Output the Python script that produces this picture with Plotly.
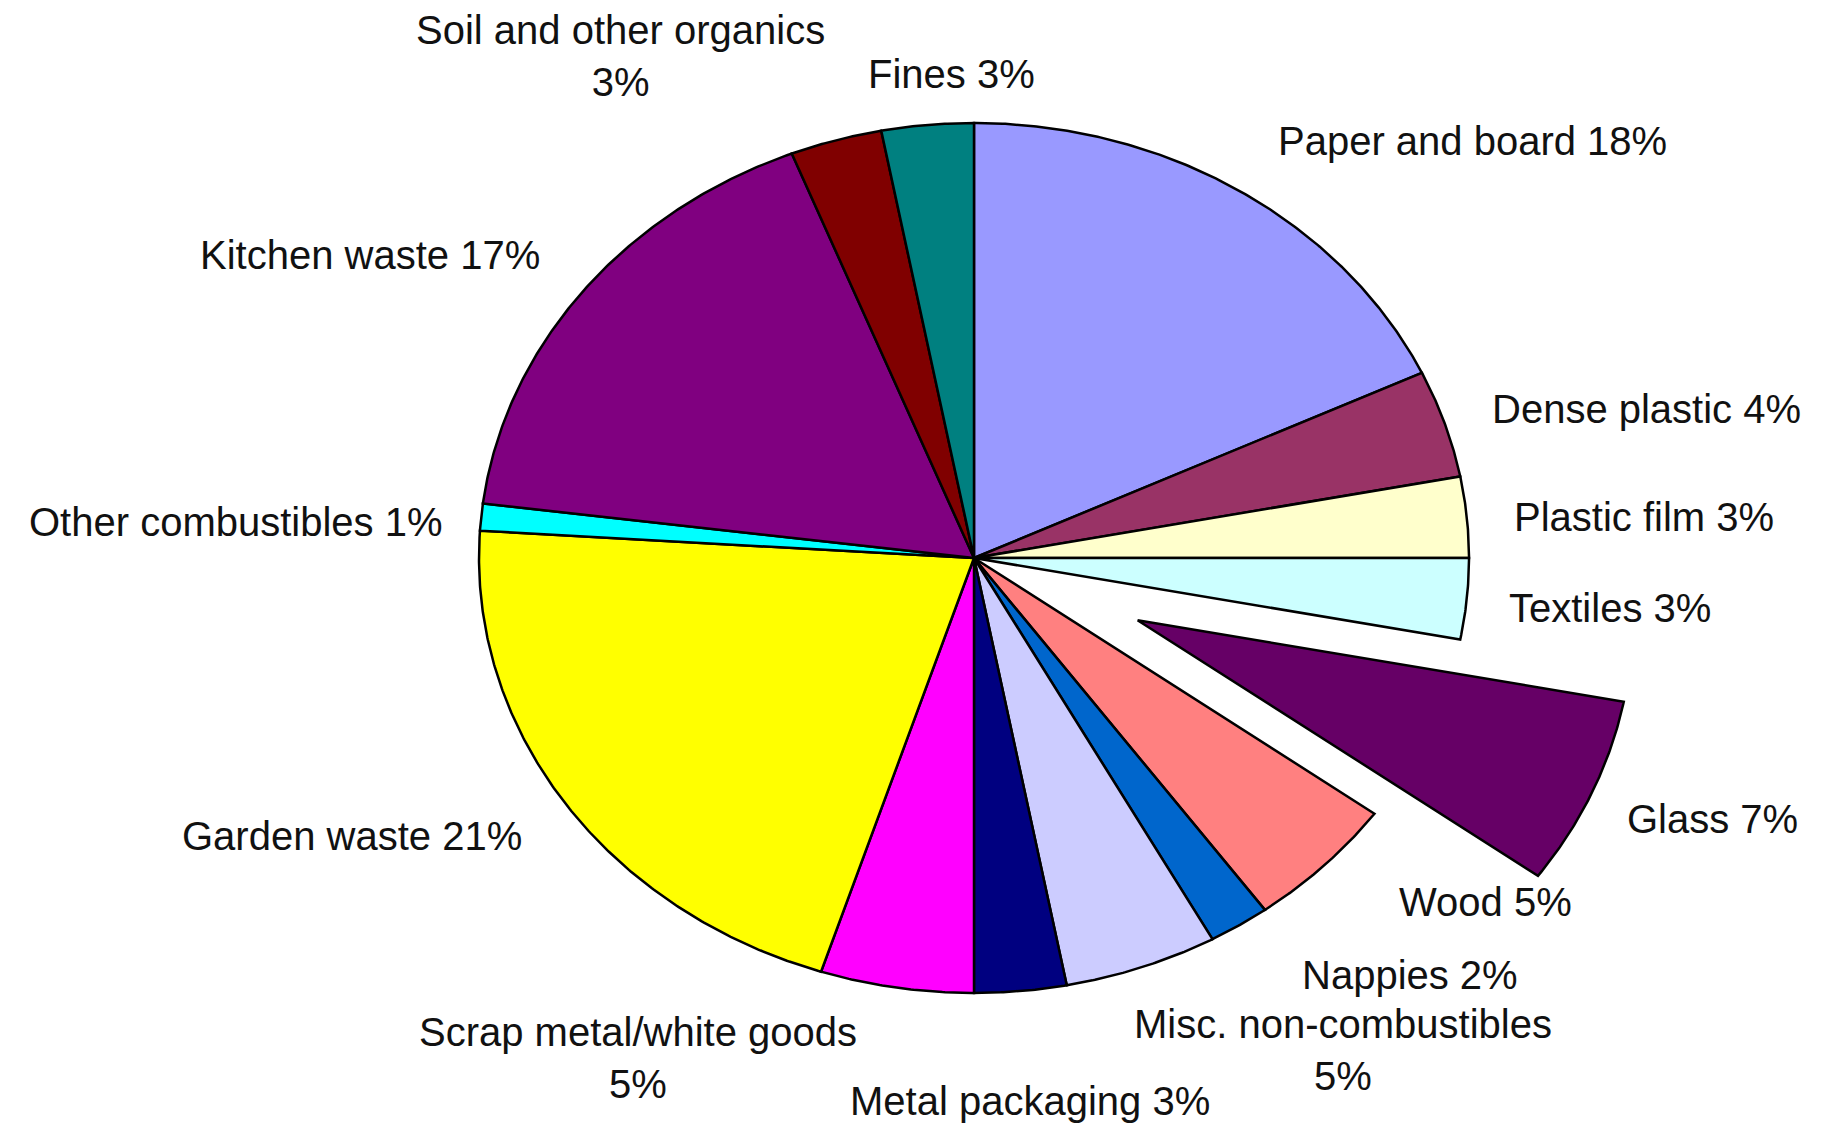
import numpy as np
import plotly.graph_objects as go

# Household waste composition (percent), clockwise from 12 o'clock
categories = [
    "Paper and board", "Dense plastic", "Plastic film", "Textiles", "Glass",
    "Wood", "Nappies", "Misc. non-combustibles", "Metal packaging",
    "Scrap metal/white goods", "Garden waste", "Other combustibles",
    "Kitchen waste", "Soil and other organics", "Fines",
]
shares = [18, 4, 3, 3, 7, 5, 2, 5, 3, 5, 21, 1, 17, 3, 3]
colors = [
    "#9999FF", "#993366", "#FFFFCC", "#CCFFFF", "#660066",
    "#FF8080", "#0066CC", "#CCCCFF", "#000080",
    "#FF00FF", "#FFFF00", "#00FFFF",
    "#800080", "#800000", "#008080",
]
# labels whose percentage sits on a second line
two_line = {"Misc. non-combustibles", "Scrap metal/white goods", "Soil and other organics"}
exploded = {"Glass": 0.36}

# label anchor points in screen pixels (x from left, y from top)
label_px = [
    (1472, 141), (1646, 409), (1644, 517), (1610, 608), (1712, 819),
    (1485, 902), (1410, 975), (1343, 1050), (1030, 1101),
    (638, 1058), (352, 836), (236, 522),
    (370, 255), (620, 56), (951, 74),
]

W, H = 1841, 1124
CX, CY = 974, 558      # pie centre, pixels
RX, RY = 495, 435      # pie radii, pixels (the pie is drawn as an ellipse)

fig = go.Figure()
total = float(sum(shares))
cum = 0.0
for name, v, col in zip(categories, shares, colors):
    a0 = 90.0 - 360.0 * cum / total
    a1 = a0 - 360.0 * v / total
    cum += v
    mid = np.radians((a0 + a1) / 2.0)
    pull = exploded.get(name, 0.0)
    ox, oy = pull * np.cos(mid), pull * np.sin(mid)
    t = np.radians(np.linspace(a0, a1, max(8, int(v * 12))))
    xs = np.concatenate([[ox], ox + np.cos(t), [ox]])
    ys = np.concatenate([[oy], oy + np.sin(t), [oy]])
    fig.add_trace(go.Scatter(
        x=xs, y=ys, mode="lines", fill="toself", fillcolor=col,
        line=dict(color="#000000", width=2.5),
        name=name, hoverinfo="text", text=f"{name}: {v}%",
        showlegend=False,
    ))

for (px, py), name, v in zip(label_px, categories, shares):
    sep = "<br>" if name in two_line else " "
    fig.add_annotation(
        x=px / W, y=1 - py / H, xref="paper", yref="paper",
        text=f"{name}{sep}{v}%", showarrow=False,
        xanchor="center", yanchor="middle", align="center",
        font=dict(family="Liberation Sans, Arial, sans-serif", size=40, color="#111111"),
    )

# axis ranges map the unit circle onto the ellipse above
x_range = [-CX / RX, (W - CX) / RX]
y_range = [-(H - CY) / RY, CY / RY]
fig.update_xaxes(range=x_range, visible=False, showgrid=False, zeroline=False, fixedrange=True)
fig.update_yaxes(range=y_range, visible=False, showgrid=False, zeroline=False, fixedrange=True)
fig.update_layout(
    width=W, height=H,
    margin=dict(l=0, r=0, t=0, b=0),
    paper_bgcolor="white", plot_bgcolor="white",
)

fig.write_html("out.html")
